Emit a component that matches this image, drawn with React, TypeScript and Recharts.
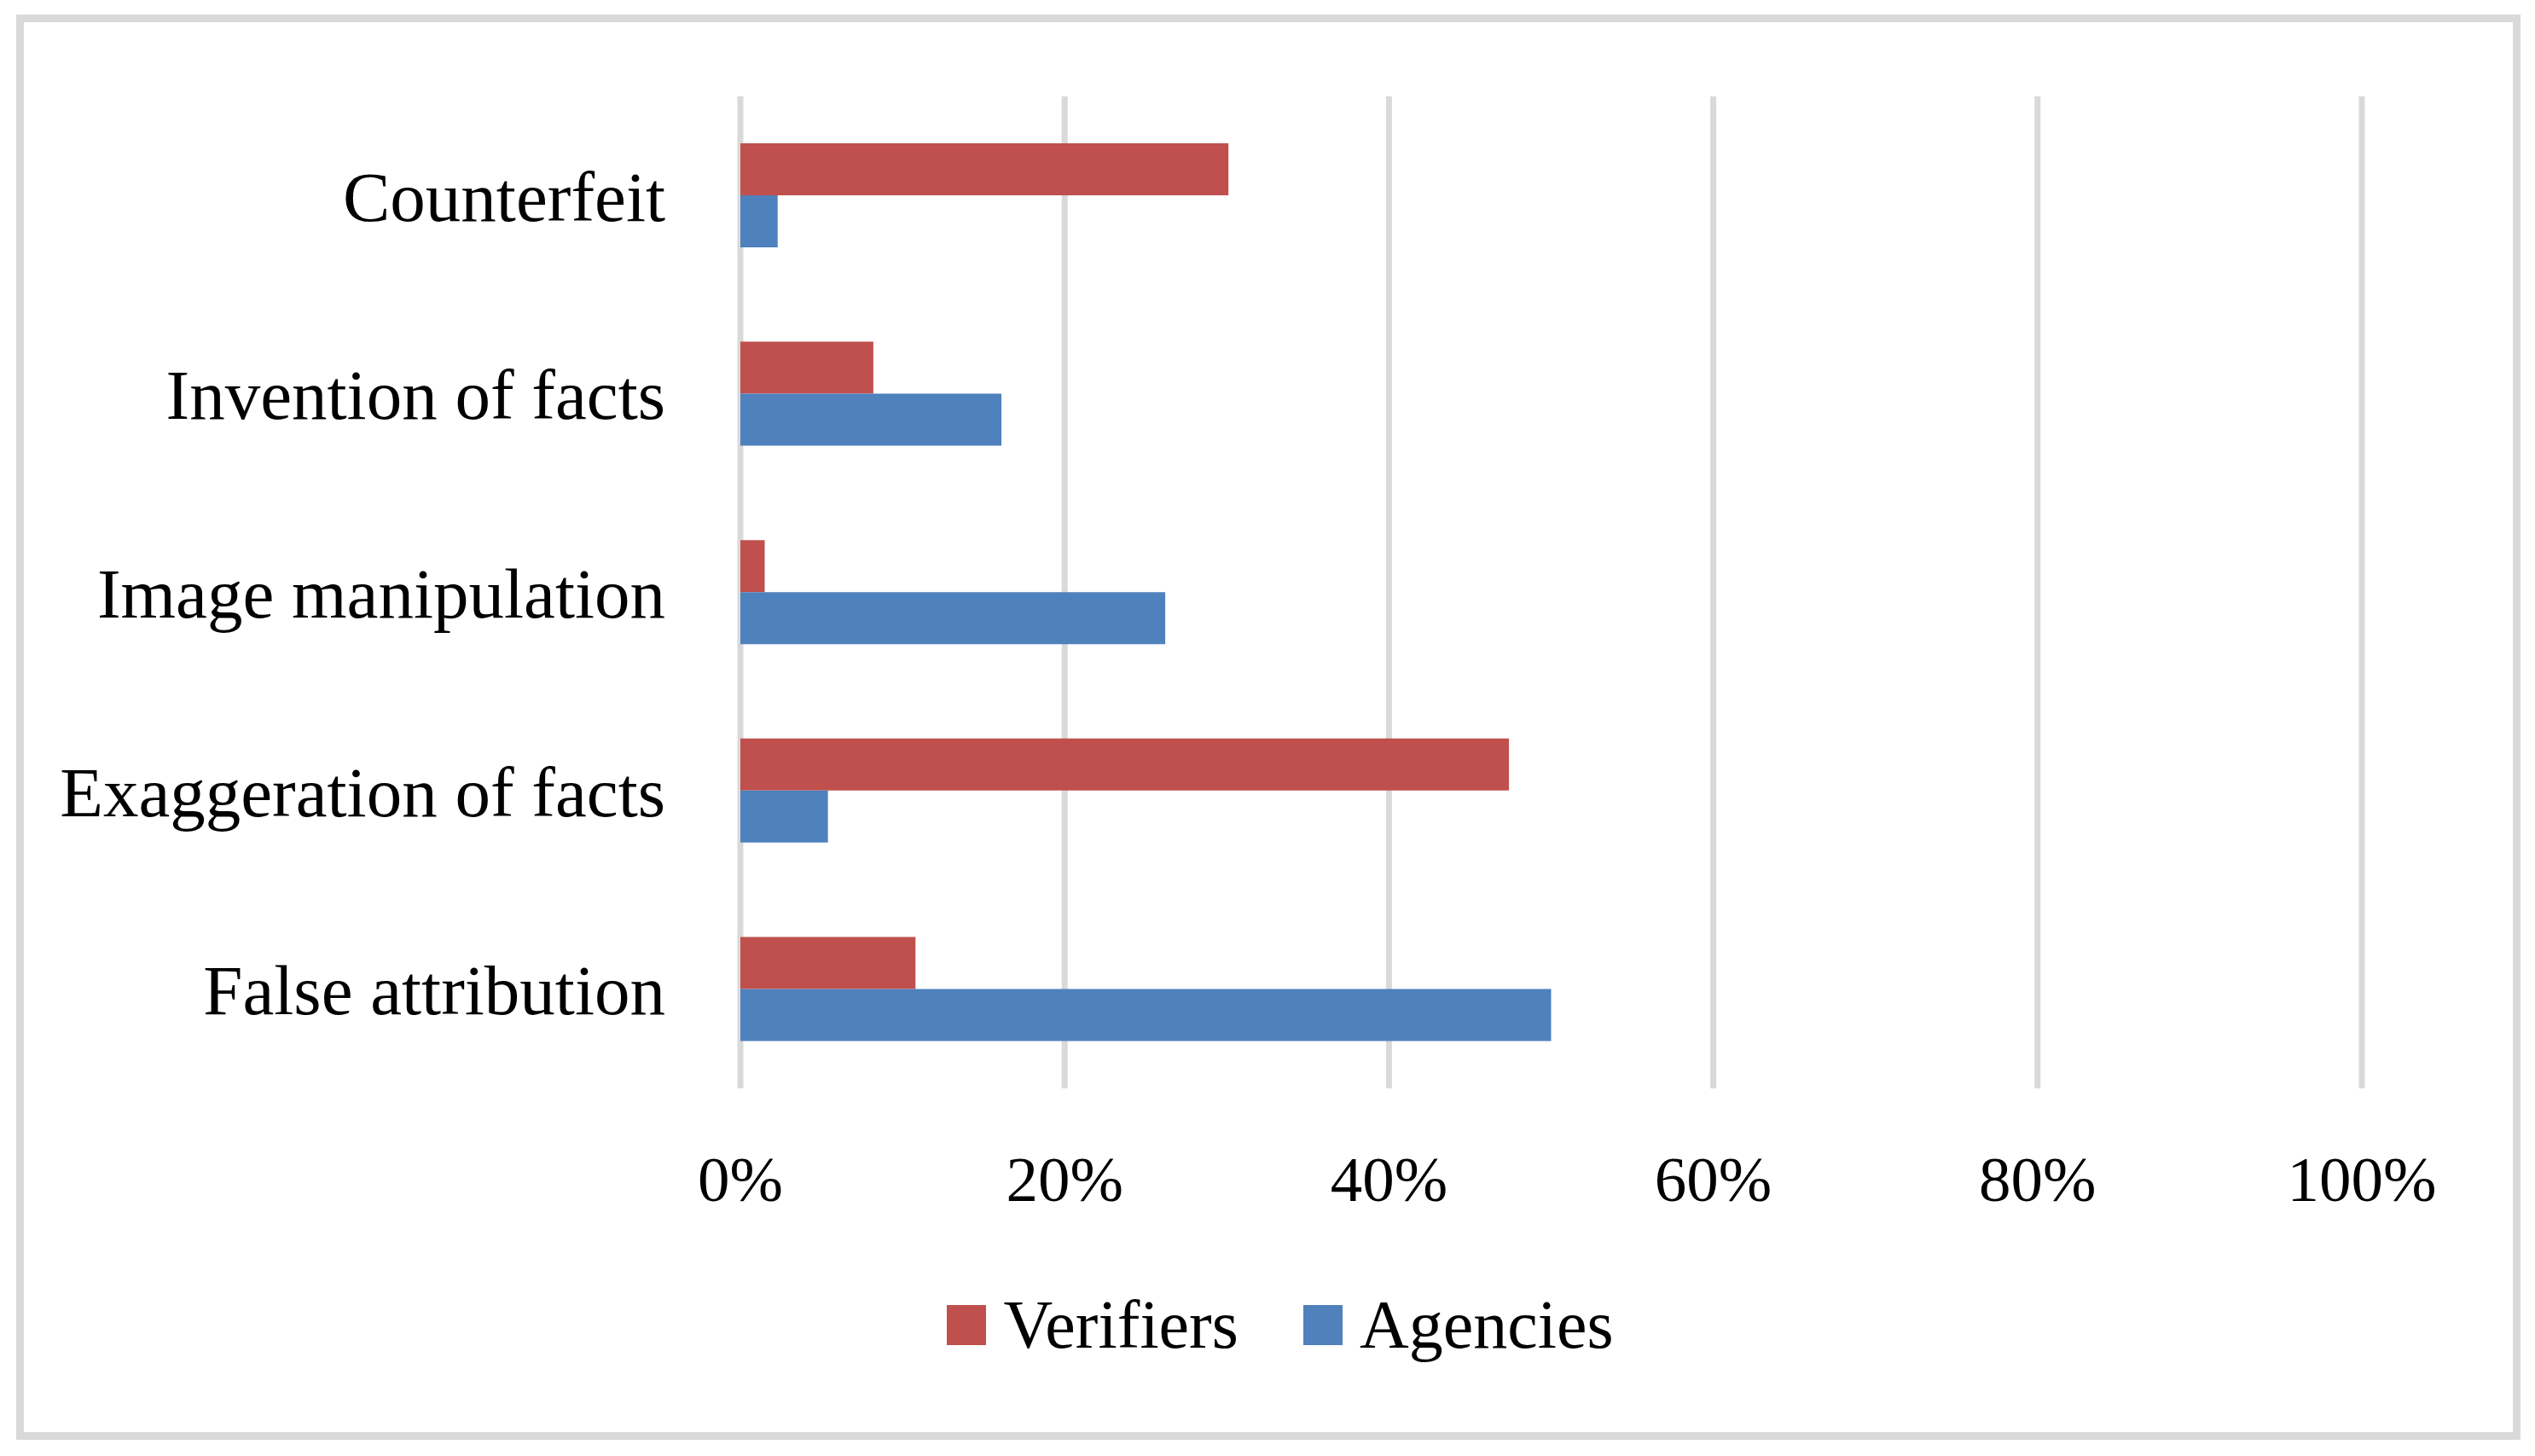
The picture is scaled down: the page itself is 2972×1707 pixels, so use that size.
import { Bar, BarChart, CartesianGrid, Legend, XAxis, YAxis } from 'recharts';

const categories = [
    'Counterfeit',
    'Invention of facts',
    'Image manipulation',
    'Exaggeration of facts',
    'False attribution',
];
const verifiers = [30.1, 8.2, 1.5, 47.4, 10.8];
const agencies = [2.3, 16.1, 26.2, 5.4, 50.0];
const xTicks = [0, 20, 40, 60, 80, 100];
const seriesNames = ['Verifiers', 'Agencies'];
const seriesColors = ['#c0504d', '#4f81bd'];

const data = categories.map((name, i) => ({
    name,
    verifiers: verifiers[i],
    agencies: agencies[i],
}));

const serif = '"Liberation Serif", "Times New Roman", serif';

function ChartLegend() {
    return (
        <div
            style={{
                display: 'flex',
                justifyContent: 'center',
                alignItems: 'center',
                fontFamily: serif,
                fontSize: 80,
                lineHeight: 1,
                color: '#000',
            }}
        >
            {seriesNames.map((n, i) => (
                <div
                    key={n}
                    style={{ display: 'flex', alignItems: 'center', marginLeft: i ? 76 : 0 }}
                >
                    <span
                        style={{
                            display: 'inline-block',
                            width: 46,
                            height: 47,
                            background: seriesColors[i],
                            marginRight: 20,
                        }}
                    />
                    <span>{n}</span>
                </div>
            ))}
        </div>
    );
}

export default function App() {
    return (
        <div style={{ position: 'absolute', left: 0, top: 0, width: 2972, height: 1707, background: '#fff' }}>
            <BarChart
                width={2972}
                height={1707}
                data={data}
                layout="vertical"
                margin={{ top: 113, right: 203, bottom: 281, left: 0 }}
                barGap={0}
                barSize={61}
            >
                <CartesianGrid horizontal={false} stroke="#d9d9d9" strokeWidth={7} />
                <XAxis
                    type="number"
                    domain={[0, 100]}
                    ticks={xTicks}
                    interval={0}
                    tickFormatter={(v) => `${v}%`}
                    axisLine={false}
                    tickLine={false}
                    tickSize={0}
                    tickMargin={79}
                    height={150}
                    tick={{ fill: '#000', fontSize: 75, fontFamily: serif }}
                />
                <YAxis
                    type="category"
                    dataKey="name"
                    width={868}
                    interval={0}
                    axisLine={false}
                    tickLine={false}
                    tickSize={0}
                    tickMargin={88}
                    tick={{ fill: '#000', fontSize: 83, fontFamily: serif }}
                />
                <Legend
                    layout="horizontal"
                    verticalAlign="middle"
                    align="center"
                    content={<ChartLegend />}
                    wrapperStyle={{ top: 1513, left: 30, width: 2942 }}
                />
                <Bar dataKey="verifiers" name="Verifiers" fill={seriesColors[0]} isAnimationActive={false} />
                <Bar dataKey="agencies" name="Agencies" fill={seriesColors[1]} isAnimationActive={false} />
            </BarChart>
            <div
                style={{
                    position: 'absolute',
                    left: 19,
                    top: 17,
                    width: 2936,
                    height: 1671,
                    border: '9px solid #d9d9d9',
                    boxSizing: 'border-box',
                    pointerEvents: 'none',
                }}
            />
        </div>
    );
}
